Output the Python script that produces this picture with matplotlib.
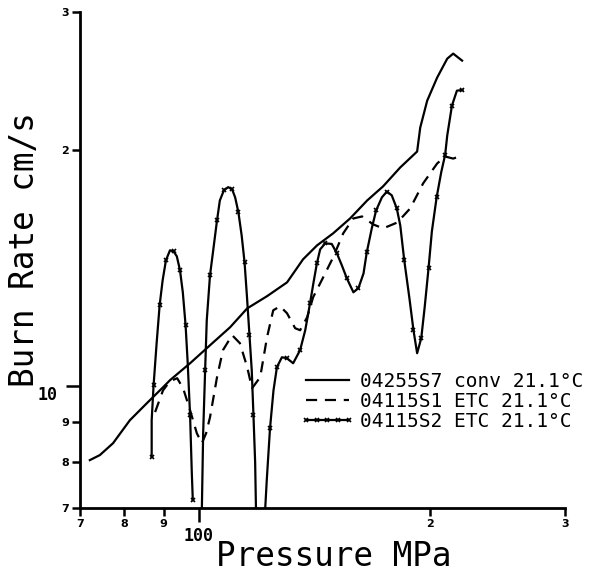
import numpy as np
import matplotlib
matplotlib.use("Agg")
import matplotlib.pyplot as plt
from matplotlib.ticker import NullLocator

nan = np.nan

# 04255S7 conv 21.1°C  (pressure MPa, burn rate cm/s)
conv_x = [72.1, 74.3, 77.3, 81.3, 85.6, 89.8, 91.7, 97.4, 103.4, 109.8, 115.6, 122.7, 130.3,
          136.7, 142.6, 149.6, 157.4, 165.7, 173.8, 183.0, 192.5, 194.3, 198.4, 204.4,
          210.7, 214.5, 220.3]
conv_y = [8.05, 8.17, 8.46, 9.05, 9.52, 9.97, 10.18, 10.70, 11.28, 11.89, 12.57, 13.03, 13.57,
          14.52, 15.13, 15.67, 16.37, 17.26, 17.99, 19.02, 19.93, 21.38, 23.14, 24.76,
          26.18, 26.57, 26.03]

# 04115S1 ETC 21.1°C
s1_x = [87.7, 89.8, 91.7, 93.7, 95.4, 97.4, 99.4, 100.9, 102.2, 103.4, 105.6, 107.5, 110.5,
        113.1, 115.6, 117.3, 120.2, 122.7, 125.0, 127.6, 130.3, 133.5, 135.5, 138.4, 140.9,
        145.2, 149.6, 154.2, 158.9, 163.2, 168.7, 173.8, 181.4, 188.5, 196.0, 204.4, 209.4,
        214.5, 220.3]
s1_y = [9.27, 9.88, 10.15, 10.24, 9.94, 9.32, 8.71, 8.46, 8.71, 9.13, 10.27, 11.12, 11.62,
        11.35, 10.58, 9.94, 10.27, 11.55, 12.50, 12.65, 12.39, 11.86, 11.79, 12.25, 12.99,
        13.77, 14.60, 15.67, 16.37, 16.47, 16.09, 15.90, 16.18, 16.86, 18.15, 19.24, 19.64,
        19.52, 19.70]

# 04115S2 ETC 21.1°C (gaps where the trace leaves the plot)
s2_x = [86.8, 86.8, 87.3, 88.1, 88.9, 89.7, 90.6, 91.7, 92.7, 93.6, 94.5, 95.3, 96.1, 96.7,
        97.4, 97.9, 98.2, nan,
        100.9, 101.3, 101.9, 102.4, 103.4, 104.6, 105.6, 106.5, 107.8, 109.2, 110.5, 111.5,
        112.6, 113.7, 114.7, 115.5, 116.4, 117.2, 117.8, 118.4, 118.7, nan,
        122.0, 122.6, 123.8, 125.1, 126.4, 128.3, 130.2, 132.7, 135.5, 137.6, 139.6, 141.0,
        142.5, 143.9, 146.1, 149.0, 151.3, 153.6, 155.9, 159.0, 161.4, 163.9, 165.5, 168.0,
        170.2, 173.2, 175.8, 178.4, 181.1, 183.0, 185.2, 188.1, 190.4, 192.5, 194.9, 196.9,
        199.2, 201.2, 204.1, 206.9, 209.4, 210.7, 213.7, 216.9, 220.5]
s2_y = [8.13, 9.05, 10.03, 11.35, 12.69, 13.65, 14.48, 14.91, 14.86, 14.65, 14.06, 13.18,
        11.96, 10.73, 9.19, 7.77, 7.16, nan,
        6.95, 8.71, 10.48, 12.14, 13.85, 15.13, 16.28, 17.26, 17.78, 17.95, 17.83, 17.42,
        16.67, 15.58, 14.39, 13.06, 11.62, 10.48, 9.19, 8.00, 6.95, nan,
        6.95, 7.59, 8.84, 9.88, 10.58, 10.89, 10.86, 10.70, 11.12, 11.79, 12.76, 13.53,
        14.35, 14.95, 15.22, 15.19, 14.78, 14.26, 13.73, 13.18, 13.34, 13.93, 14.82, 15.90,
        16.76, 17.42, 17.72, 17.52, 16.86, 16.04, 14.48, 12.95, 11.79, 11.02, 11.52, 12.61,
        14.14, 15.76, 17.42, 18.74, 19.75, 20.89, 22.81, 23.83, 23.88]

labels = ["04255S7 conv 21.1°C", "04115S1 ETC 21.1°C", "04115S2 ETC 21.1°C"]

xtick_vals = [70, 80, 90, 100, 200, 300]
xtick_labels = ["7", "8", "9", "", "2", "3"]
ytick_vals = [7, 8, 9, 10, 20, 30]
ytick_labels = ["7", "8", "9", "", "2", "3"]

mono = ["DejaVu Sans Mono", "DejaVu Sans"]

fig = plt.figure(figsize=(5.92, 5.77), dpi=100)
ax = fig.add_axes([0.1351, 0.1201, 0.8193, 0.8586])
ax.set_xscale("log")
ax.set_yscale("log")

ax.plot(conv_x, conv_y, color="black", lw=1.6, label=labels[0])
ax.plot(s1_x, s1_y, color="black", lw=1.6, dashes=(5, 3.5), label=labels[1])
ax.plot(s2_x, s2_y, color="black", lw=1.6, marker="x", ms=3.5, mew=1.2,
        markevery=2, label=labels[2])

ax.set_xlim(70, 300)
ax.set_ylim(7, 30)

ax.xaxis.set_minor_locator(NullLocator())
ax.yaxis.set_minor_locator(NullLocator())
ax.set_xticks(xtick_vals)
ax.set_xticklabels(xtick_labels, fontweight="bold", fontsize=8)
ax.set_yticks(ytick_vals)
ax.set_yticklabels(ytick_labels, fontweight="bold", fontsize=8)
ax.tick_params(direction="out", length=6, width=1.8, pad=2, colors="black")
ax.xaxis.get_major_ticks()[3].tick1line.set_markersize(10)
ax.yaxis.get_major_ticks()[3].tick1line.set_markersize(10)

for s in ["top", "right"]:
    ax.spines[s].set_visible(False)
for s in ["left", "bottom"]:
    ax.spines[s].set_linewidth(2)

ax.text(-0.066, 10, "10", transform=ax.get_yaxis_transform(), ha="center", va="top",
        fontsize=12, fontweight="bold", family=mono)
ax.text(100, -0.057, "100", transform=ax.get_xaxis_transform(), ha="center", va="center",
        fontsize=12, fontweight="bold", family=mono)

fig.text(334 / 592, 1 - 556 / 577, "Pressure MPa", ha="center", va="center",
         fontsize=23.5, family=mono)
fig.text(25 / 592, 1 - 250 / 577, "Burn Rate cm/s", ha="center", va="center",
         rotation=90, fontsize=23.5, family=mono)

leg = ax.legend(loc="center left", bbox_to_anchor=(300 / 592, 1 - 401.2 / 577),
                bbox_transform=fig.transFigure, frameon=False,
                prop={"family": mono, "size": 14}, handlelength=2.8, handletextpad=0.3,
                labelspacing=0.05, borderpad=0, borderaxespad=0, numpoints=5)

fig.savefig("out.png", dpi=100)
